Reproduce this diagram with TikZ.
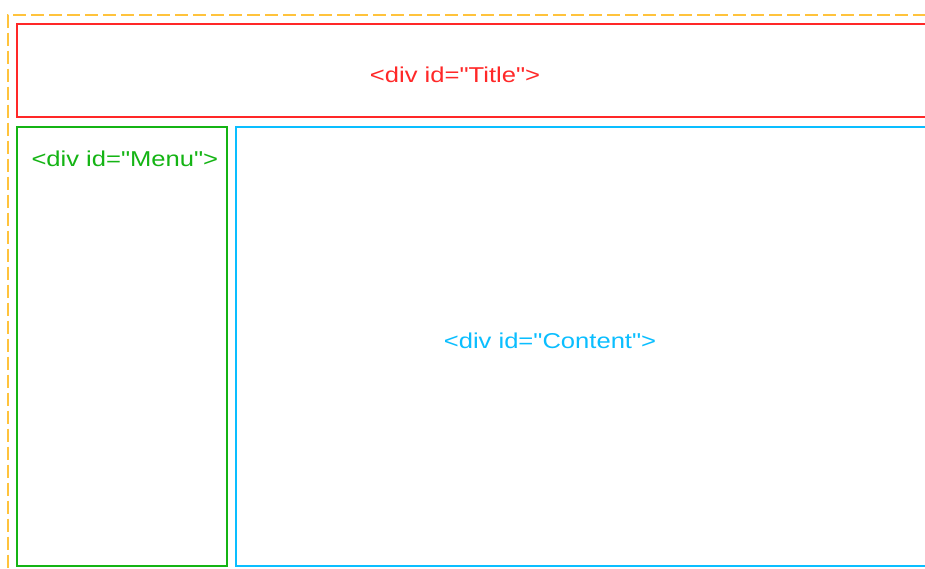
\documentclass[tikz,border=0pt]{standalone}
\usepackage{fontspec}
\newfontfamily\lbl[FakeStretch=1.19]{Liberation Sans}
\definecolor{outerorange}{RGB}{255,195,60}
\definecolor{titlered}{RGB}{255,40,40}
\definecolor{menugreen}{RGB}{20,180,20}
\definecolor{contentblue}{RGB}{10,190,255}
\begin{document}
\begin{tikzpicture}[x=1pt,y=-1pt,
  box/.style={draw, line width=2.3pt, rectangle, inner sep=0pt, outer sep=0pt, anchor=north west},
  lab/.style={inner sep=0pt, outer sep=0pt, font=\lbl\fontsize{21.5}{26}\selectfont}]
\useasboundingbox (0,0) rectangle (925,568);
\clip (0,0) rectangle (925,568);
\fill[white] (0,0) rectangle (925,568);
\node[box, draw=outerorange, line width=2pt, dash pattern=on 13pt off 5pt,
  minimum width=960pt, minimum height=600pt] (page) at (7.5,14.5) {};
\node[box, draw=titlered, minimum width=950pt, minimum height=93pt] (titlebox) at (17,24) {};
\node[box, draw=menugreen, minimum width=210pt, minimum height=439pt] (menubox) at (17,127) {};
\node[box, draw=contentblue, minimum width=720pt, minimum height=439pt] (contentbox) at (236,127) {};
\node[lab, text=titlered, anchor=base] (titletext) at (455,82) {<div id="Title">};
\node[lab, text=menugreen, anchor=base west] (menutext) at (31.5,166) {<div id="Menu">};
\node[lab, text=contentblue, anchor=base] (contenttext) at (550,348) {<div id="Content">};
\end{tikzpicture}
\end{document}
